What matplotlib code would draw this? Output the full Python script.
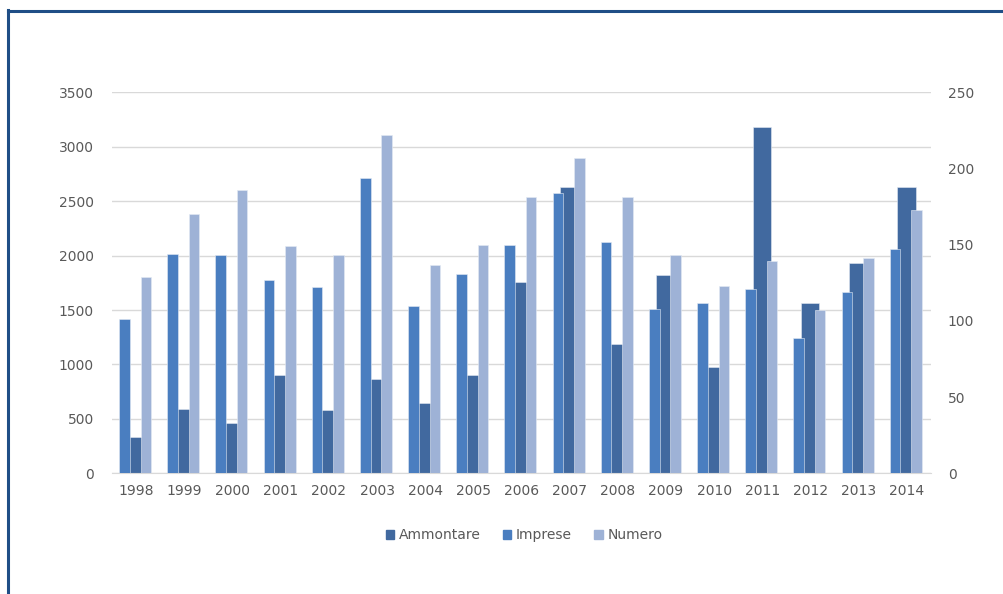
import numpy as np
import matplotlib.pyplot as plt
from matplotlib.lines import Line2D
from matplotlib.patches import Patch

anni = ['1998', '1999', '2000', '2001', '2002', '2003', '2004', '2005', '2006',
        '2007', '2008', '2009', '2010', '2011', '2012', '2013', '2014']
ammontare = [330, 590, 465, 905, 580, 865, 650, 905, 1755, 2630, 1190, 1825, 975,
             3185, 1565, 1930, 2630]
imprese = [101, 144, 143, 127, 122, 194, 110, 131, 150, 184, 152, 108, 112, 121,
           89, 119, 147]
numero = [129, 170, 186, 149, 143, 222, 137, 150, 181, 207, 181, 143, 123, 139,
          107, 141, 173]

c_amm = '#41699F'
c_imp = '#4A7EC0'
c_num = '#9EB2D6'
testo = '#595959'
griglia = '#D9D9D9'

x = np.arange(len(anni))

fig = plt.figure(figsize=(10.04, 5.94), dpi=100)
ax = fig.add_axes([0.1116, 0.2032, 0.8157, 0.6414])

# asse principale: ammontare, dietro alle altre serie
ax.bar(x - 0.01, ammontare, width=0.39, color=c_amm, edgecolor='#E4EAF3',
       linewidth=0.4, zorder=2)
ax.set_ylim(0, 3500)
ax.set_yticks(np.arange(0, 3501, 500))
ax.set_xlim(-0.5, len(anni) - 0.5)
ax.set_xticks(x)
ax.set_xticklabels(anni)
ax.grid(axis='y', color=griglia, linewidth=1, zorder=0)
ax.set_axisbelow(True)

# asse secondario: imprese e numero
ax2 = ax.twinx()
ax2.bar(x - 0.245, imprese, width=0.222, color=c_imp, edgecolor='#E4EAF3',
        linewidth=0.4, zorder=3)
ax2.bar(x + 0.2, numero, width=0.218, color=c_num, edgecolor='#E4EAF3',
        linewidth=0.4, zorder=3)
ax2.set_ylim(0, 250)
ax2.set_yticks(np.arange(0, 251, 50))

for a in (ax, ax2):
    for s in a.spines.values():
        s.set_visible(False)
    a.tick_params(length=0, colors=testo, labelsize=10)
ax.spines['bottom'].set_visible(True)
ax.spines['bottom'].set_color(griglia)
ax.tick_params(axis='y', pad=13)
ax.tick_params(axis='x', pad=8)
ax2.tick_params(axis='y', pad=12)

handles = [Patch(color=c_amm), Patch(color=c_imp), Patch(color=c_num)]
fig.legend(handles, ['Ammontare', 'Imprese', 'Numero'], loc='center',
           bbox_to_anchor=(0.522, 1 - 535 / 594), ncol=3, frameon=False,
           handlelength=0.6, handleheight=0.6, handletextpad=0.35,
           columnspacing=1.6, fontsize=10, labelcolor=testo)

# cornice blu in alto e a sinistra
bordo = '#1F4E86'
fig.add_artist(Line2D([8.5 / 1004, 1.0], [1 - 11 / 594, 1 - 11 / 594],
                      color=bordo, linewidth=2.2, transform=fig.transFigure))
fig.add_artist(Line2D([8.5 / 1004, 8.5 / 1004], [1 - 10 / 594, 0.0],
                      color=bordo, linewidth=2.2, transform=fig.transFigure))

fig.savefig('out.png', dpi=100)
